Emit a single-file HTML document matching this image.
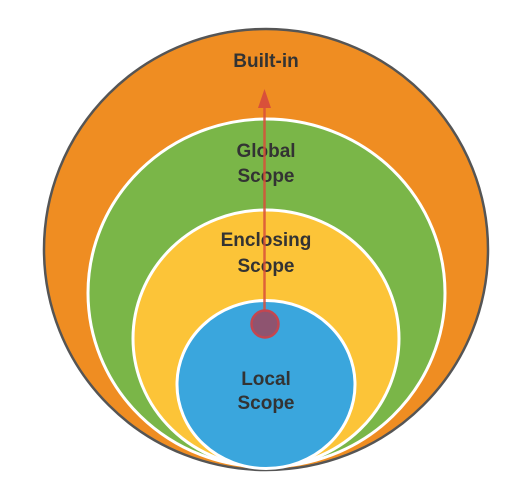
<!DOCTYPE html>
<html><head><style>
body{margin:0;background:#fff;}
svg{display:block;}
text{font-family:"Liberation Sans",sans-serif;font-weight:bold;font-size:19px;fill:#333;text-anchor:middle;}
</style></head><body>
<svg width="532" height="490" viewBox="0 0 532 490">
<ellipse cx="266" cy="249.5" rx="222" ry="220.5" fill="#ef8d22" stroke="#555" stroke-width="2.5"/>
<ellipse cx="266.5" cy="293" rx="178.5" ry="174" fill="#7ab648" stroke="#fff" stroke-width="3"/>
<ellipse cx="266" cy="338.5" rx="133" ry="128.5" fill="#fcc438" stroke="#fff" stroke-width="3"/>
<ellipse cx="266" cy="384.5" rx="89" ry="84" fill="#3aa6dd" stroke="#fff" stroke-width="3"/>
<text x="266" y="67">Built-in</text>
<text x="266" y="157">Global</text>
<text x="266" y="182">Scope</text>
<text x="266" y="246">Enclosing</text>
<text x="266" y="272">Scope</text>
<text x="266" y="385">Local</text>
<text x="266" y="409">Scope</text>
<line x1="264.5" y1="312" x2="264.5" y2="105" stroke="#d9503a" stroke-width="2.5" opacity="0.85"/>
<polygon points="264.5,89 258,108 271,108" fill="#d9503a"/>
<circle cx="265" cy="324" r="13.5" fill="#8e5470" stroke="#c34650" stroke-width="2.5"/>
</svg>
</body></html>
